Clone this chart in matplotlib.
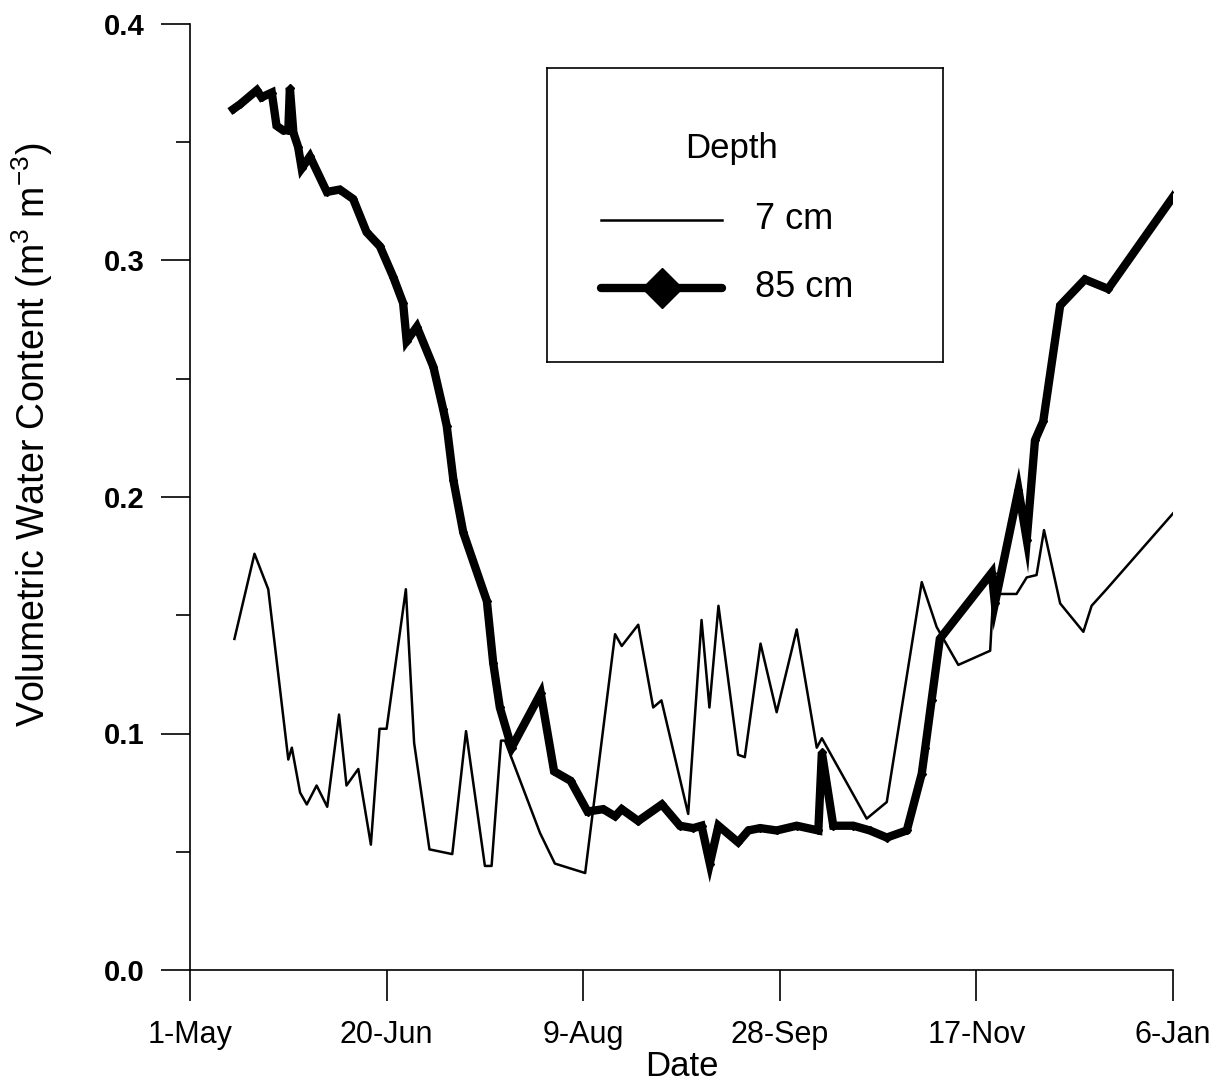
import matplotlib
matplotlib.use("Agg")
import matplotlib.pyplot as plt
from matplotlib.lines import Line2D
from matplotlib.ticker import MultipleLocator, FixedLocator

# Soil volumetric water content at two depths, days counted from 1 May
days_7cm = [11.3, 16.4, 19.9, 25.0, 25.9, 28.0, 29.7, 32.2, 34.9, 37.9, 39.8, 42.8,
            46.0, 48.2, 50.0, 54.9, 57.0, 60.9, 66.7, 70.2, 75.0, 76.7, 79.1, 80.1,
            89.0, 92.8, 100.5, 108.1, 109.8, 114.0, 117.8, 119.9, 126.7, 130.1, 132.1,
            134.4, 139.4, 141.1, 145.1, 149.2, 154.3, 159.4, 160.7, 172.1, 177.2, 186.1,
            189.9, 195.4, 203.5, 204.3, 210.2, 212.8, 215.3, 217.2, 221.3, 227.2, 229.3,
            233.1, 250.5]
vwc_7cm = [0.140, 0.176, 0.161, 0.089, 0.094, 0.075, 0.070, 0.078, 0.069, 0.108, 0.078, 0.085,
           0.053, 0.102, 0.102, 0.161, 0.096, 0.051, 0.049, 0.101, 0.044, 0.044, 0.097, 0.097,
           0.058, 0.045, 0.041, 0.142, 0.137, 0.146, 0.111, 0.114, 0.066, 0.148, 0.111,
           0.154, 0.091, 0.090, 0.138, 0.109, 0.144, 0.094, 0.098, 0.064, 0.071, 0.164,
           0.145, 0.129, 0.135, 0.159, 0.159, 0.166, 0.167, 0.186, 0.155, 0.143, 0.154,
           0.161, 0.194]

days_85cm = [11.0, 12.7, 17.0, 18.2, 20.8, 22.0, 23.7, 25.0, 25.4, 26.3, 27.5, 28.4,
             30.5, 34.8, 38.1, 41.5, 44.9, 48.3, 51.7, 54.2, 55.1, 57.7, 61.9, 64.4,
             65.3, 67.0, 69.5, 75.5, 77.1, 78.8, 81.8, 89.2, 92.6, 96.8, 101.1, 105.1,
             108.1, 109.8, 114.0, 120.0, 124.6, 128.0, 130.1, 132.2, 134.4, 139.4, 142.0,
             145.0, 149.2, 154.3, 159.8, 160.7, 163.6, 168.7, 172.9, 177.2, 182.3, 186.1,
             187.0, 188.6, 190.7, 203.9, 204.7, 210.7, 212.8, 214.9, 217.0, 221.3, 227.6,
             233.5, 250.9]
vwc_85cm = [0.364, 0.366, 0.372, 0.369, 0.371, 0.357, 0.355, 0.355, 0.373, 0.354, 0.348, 0.339,
            0.344, 0.329, 0.330, 0.326, 0.312, 0.306, 0.293, 0.282, 0.266, 0.272, 0.255, 0.237,
            0.230, 0.207, 0.185, 0.156, 0.130, 0.111, 0.094, 0.117, 0.084, 0.080, 0.067, 0.068,
            0.065, 0.068, 0.063, 0.070, 0.061, 0.060, 0.061, 0.045, 0.061, 0.054, 0.059,
            0.060, 0.059, 0.061, 0.059, 0.092, 0.061, 0.061, 0.059, 0.056, 0.059, 0.083,
            0.094, 0.114, 0.140, 0.168, 0.155, 0.203, 0.182, 0.224, 0.232, 0.281, 0.292,
            0.288, 0.329]

tick_days = [0, 50, 100, 150, 200, 250]
tick_labels = ["1-May", "20-Jun", "9-Aug", "28-Sep", "17-Nov", "6-Jan"]
series_labels = ["7 cm", "85 cm"]

plt.rcParams["font.family"] = ["Liberation Sans", "DejaVu Sans"]
plt.rcParams["mathtext.fontset"] = "custom"
plt.rcParams["mathtext.rm"] = "Liberation Sans"
plt.rcParams["mathtext.it"] = "Liberation Sans"

fig = plt.figure(figsize=(12.2, 10.89), dpi=100)
ax = fig.add_axes([190 / 1220, 1 - 970 / 1089, 983 / 1220, 946 / 1089])

thin_style = dict(color="black", lw=1.8)
thick_style = dict(color="black", lw=6.0, marker="D", markersize=4,
                   solid_joinstyle="miter")

ax.plot(days_7cm, vwc_7cm, **thin_style)
ax.plot(days_85cm, vwc_85cm, **thick_style)

ax.set_xlim(0, 250)
ax.set_ylim(0, 0.4)
ax.spines["top"].set_visible(False)
ax.spines["right"].set_visible(False)
for s in ("left", "bottom"):
    ax.spines[s].set_linewidth(1.2)

ax.xaxis.set_major_locator(FixedLocator(tick_days))
ax.set_xticklabels(tick_labels, fontsize=22)
ax.yaxis.set_major_locator(MultipleLocator(0.1))
ax.yaxis.set_minor_locator(MultipleLocator(0.05))
ax.set_yticklabels([f"{v:.1f}" for v in ax.get_yticks()], fontsize=21, fontweight="bold")
ax.tick_params(axis="x", direction="out", length=22, width=1.2, pad=14)
ax.tick_params(axis="y", which="major", direction="out", length=21, width=1.2, pad=12)
ax.tick_params(axis="y", which="minor", direction="out", length=10, width=1.2)

ax.set_xlabel("Date", fontsize=25, labelpad=0)
ax.set_ylabel(r"Volumetric Water Content (m$^{3}$ m$^{\mathregular{-3}}$)", fontsize=27)
ax.yaxis.set_label_coords(-0.137, 0.566)

# Legend panel
lax = fig.add_axes([547 / 1220, 1 - 362 / 1089, 396 / 1220, 294 / 1089])
lax.set_xlim(0, 1)
lax.set_ylim(0, 1)
lax.set_xticks([])
lax.set_yticks([])
for s in lax.spines.values():
    s.set_linewidth(1.2)
lax.text(0.465, 0.725, "Depth", ha="center", va="center", fontsize=25)
lax.add_line(Line2D([0.137, 0.443], [0.483, 0.483], **thin_style))
lax.add_line(Line2D([0.137, 0.443], [0.252, 0.252], color="black", lw=6.0,
                    solid_capstyle="round"))
lax.add_line(Line2D([0.29], [0.252], marker="D", markersize=20, color="black", lw=0))
lax.text(0.525, 0.483, series_labels[0], ha="left", va="center", fontsize=26)
lax.text(0.525, 0.252, series_labels[1], ha="left", va="center", fontsize=26)

fig.savefig("out.png", dpi=100)
